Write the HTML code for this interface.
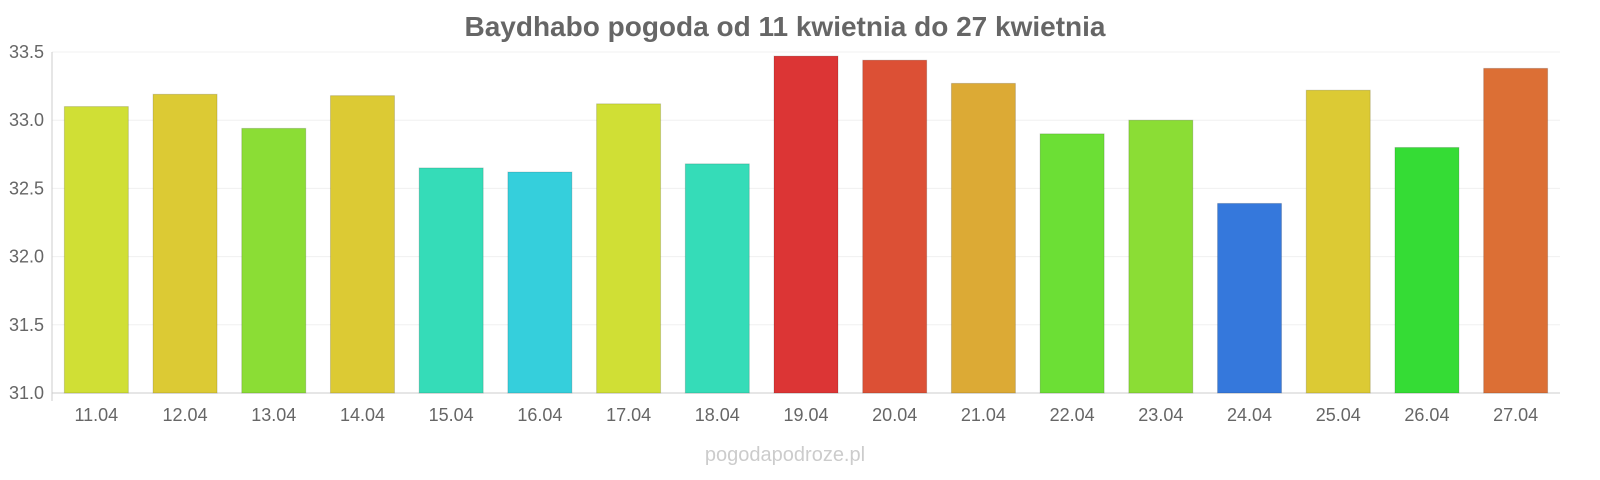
<!DOCTYPE html>
<html><head><meta charset="utf-8"><style>
html,body{margin:0;padding:0;background:#fff;}
svg{display:block;font-family:"Liberation Sans",sans-serif;}
</style></head><body>
<svg id="chart" width="1600" height="480">
<text x="785" y="36" text-anchor="middle" font-size="28" font-weight="bold" fill="#666">Baydhabo pogoda od 11 kwietnia do 27 kwietnia</text>
<g id="grid"></g><g id="bars"></g><g id="xlabels"></g><g id="ylabels"></g>
<text x="785" y="461" text-anchor="middle" font-size="20" fill="#ccc">pogodapodroze.pl</text>
</svg>
<script>
const categories=["11.04","12.04","13.04","14.04","15.04","16.04","17.04","18.04","19.04","20.04","21.04","22.04","23.04","24.04","25.04","26.04","27.04"];
const values=[33.10,33.19,32.94,33.18,32.65,32.62,33.12,32.68,33.47,33.44,33.27,32.90,33.00,32.39,33.22,32.80,33.38];
const colors=["#d0df35","#dcca34","#8bdd35","#dcca34","#35dcb8","#35cfdc","#d0df35","#35dcb8","#dc3535","#dc5035","#dcaa35","#6cdf35","#8bdd35","#3578dc","#dcca34","#35dc35","#dc6f35"];
const yTicks=[31.0,31.5,32.0,32.5,33.0,33.5];
const ns="http://www.w3.org/2000/svg";
const yMin=31,yMax=33.5,plotTop=52,plotBottom=393,plotLeft=52,plotRight=1560;
const yScale=v=>plotBottom-(v-yMin)/(yMax-yMin)*(plotBottom-plotTop);
const bw=(plotRight-plotLeft)/categories.length;
const xScale=i=>plotLeft+bw*i+bw/2;
function mk(t,a,p){const e=document.createElementNS(ns,t);for(const k in a)e.setAttribute(k,a[k]);document.getElementById(p).appendChild(e);return e;}
yTicks.forEach(t=>{
 const l=mk('line',{x1:plotLeft,x2:plotRight,y1:yScale(t),y2:yScale(t),stroke:t===yMin?'#ccc':'#f0f0f0','stroke-width':1},'grid');
 
 
 const tx=mk('text',{x:44,y:yScale(t)+6,'text-anchor':'end','font-size':18,fill:'#666'},'ylabels');
 tx.textContent=t.toFixed(1);
 
 
});
const ax=mk('line',{x1:plotLeft,x2:plotLeft,y1:plotTop,y2:plotBottom+8,stroke:'#ccc'},'grid');


categories.forEach((c,i)=>{
 const r=mk('rect',{x:xScale(i)-32,y:yScale(values[i]),width:64,height:plotBottom-yScale(values[i]),fill:colors[i],stroke:'rgba(0,0,0,0.15)','stroke-width':1},'bars');
 
 
 const t=mk('text',{x:xScale(i),y:421,'text-anchor':'middle','font-size':18,fill:'#666'},'xlabels');
 t.textContent=c;
 
 
});
</script>
</body></html>
